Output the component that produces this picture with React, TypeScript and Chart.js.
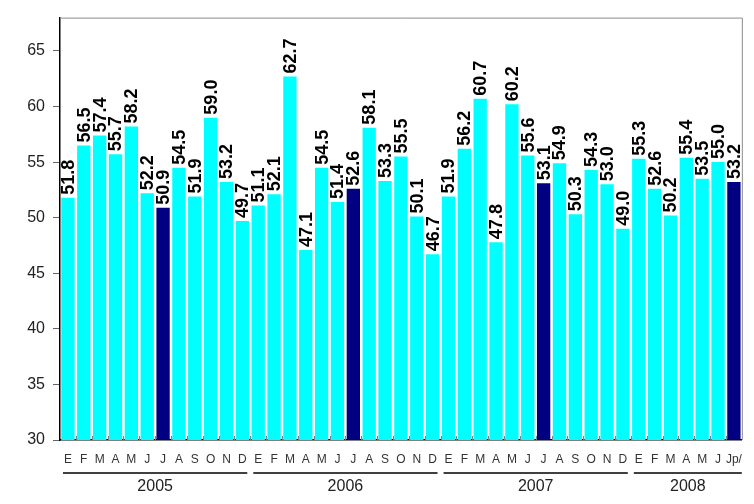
import React, { useEffect, useRef } from 'react';
import { Chart, registerables } from 'chart.js';
Chart.register(...registerables);

const monthLetters = ['E', 'F', 'M', 'A', 'M', 'J', 'J', 'A', 'S', 'O', 'N', 'D'];
const months2008 = ['E', 'F', 'M', 'A', 'M', 'J', 'Jp/'];
const years = ['2005', '2006', '2007', '2008'];
const yearCounts = [12, 12, 12, 7];
const values2005 = [51.8, 56.5, 57.4, 55.7, 58.2, 52.2, 50.9, 54.5, 51.9, 59.0, 53.2, 49.7];
const values2006 = [51.1, 52.1, 62.7, 47.1, 54.5, 51.4, 52.6, 58.1, 53.3, 55.5, 50.1, 46.7];
const values2007 = [51.9, 56.2, 60.7, 47.8, 60.2, 55.6, 53.1, 54.9, 50.3, 54.3, 53.0, 49.0];
const values2008 = [55.3, 52.6, 50.2, 55.4, 53.5, 55.0, 53.2];
const yTicks = [30, 35, 40, 45, 50, 55, 60, 65];

const labels = [...monthLetters, ...monthLetters, ...monthLetters, ...months2008];
const values = [...values2005, ...values2006, ...values2007, ...values2008];
const colors = values.map((_, i) => (i % 12 === 6 ? '#000080' : '#00FFFF'));

const FONT = 'Arial, "Liberation Sans", sans-serif';

const decorPlugin = {
  id: 'decor',
  afterDatasetsDraw(chart: any) {
    const { ctx, chartArea } = chart;
    const xs = chart.scales.x;
    const meta = chart.getDatasetMeta(0);
    const half = (xs.getPixelForValue(1) - xs.getPixelForValue(0)) / 2;
    ctx.save();
    // top/right border
    ctx.strokeStyle = '#8c8c8c';
    ctx.lineWidth = 1;
    ctx.beginPath();
    ctx.moveTo(chartArea.left, chartArea.top + 0.5);
    ctx.lineTo(chartArea.right + 0.5, chartArea.top + 0.5);
    ctx.lineTo(chartArea.right + 0.5, chartArea.bottom);
    ctx.stroke();
    // small x tick marks
    ctx.strokeStyle = '#808080';
    ctx.beginPath();
    for (let i = 1; i < values.length; i++) {
      const x = Math.round(xs.getPixelForValue(i) - half) + 0.5;
      ctx.moveTo(x, chartArea.bottom - 4);
      ctx.lineTo(x, chartArea.bottom);
    }
    ctx.stroke();
    // value labels
    ctx.fillStyle = '#000';
    ctx.font = `bold 18px ${FONT}`;
    ctx.textAlign = 'left';
    ctx.textBaseline = 'middle';
    meta.data.forEach((bar: any, i: number) => {
      ctx.save();
      ctx.translate(bar.x + 1, bar.y - 3);
      ctx.rotate(-Math.PI / 2);
      ctx.fillText(values[i].toFixed(1), 0, 0);
      ctx.restore();
    });
    // year groups
    let start = 0;
    ctx.font = `16px ${FONT}`;
    ctx.textAlign = 'center';
    ctx.fillStyle = '#222';
    ctx.strokeStyle = '#000';
    ctx.lineWidth = 1.5;
    years.forEach((yr, gi) => {
      const end = start + yearCounts[gi] - 1;
      const x0 = xs.getPixelForValue(start) - half + 3;
      const x1 = gi === years.length - 1 ? chartArea.right : xs.getPixelForValue(end) + half - 3;
      ctx.beginPath();
      ctx.moveTo(x0, 473);
      ctx.lineTo(x1, 473);
      ctx.stroke();
      ctx.fillText(yr, (x0 + x1) / 2, 487);
      start = end + 1;
    });
    ctx.restore();
  },
};

export default function App() {
  const ref = useRef<HTMLCanvasElement>(null);
  useEffect(() => {
    if (!ref.current) return;
    const chart = new Chart(ref.current, {
      type: 'bar',
      data: {
        labels,
        datasets: [
          {
            data: values,
            backgroundColor: colors,
            borderWidth: 0,
            categoryPercentage: 1,
            barPercentage: 0.84,
          },
        ],
      },
      options: {
        animation: false,
        responsive: false,
        devicePixelRatio: 1,
        layout: { padding: { top: 13, right: 8, left: 0, bottom: 0 } },
        plugins: { legend: { display: false }, tooltip: { enabled: false } },
        scales: {
          x: {
            grid: { display: false, drawTicks: false },
            border: { display: true, color: '#000', width: 1.5 },
            ticks: {
              autoSkip: false,
              maxRotation: 0,
              padding: 12,
              color: '#333',
              font: { family: FONT, size: 12 },
            },
            afterFit(scale: any) {
              scale.height = 64;
            },
          },
          y: {
            min: 30,
            max: 68,
            grid: { drawOnChartArea: false, drawTicks: true, tickLength: 7, color: '#666' },
            border: { display: true, color: '#000', width: 1.5 },
            ticks: {
              padding: 8,
              color: '#222',
              font: { family: FONT, size: 16 },
            },
            afterBuildTicks(scale: any) {
              scale.ticks = yTicks.map((v) => ({ value: v }));
            },
            afterFit(scale: any) {
              scale.width = 60;
            },
          },
        },
      },
      plugins: [decorPlugin],
    });
    return () => chart.destroy();
  }, []);
  return (
    <div style={{ position: 'absolute', left: 0, top: 0, width: 754, height: 504, background: '#fff' }}>
      <canvas ref={ref} width={754} height={504} />
    </div>
  );
}
